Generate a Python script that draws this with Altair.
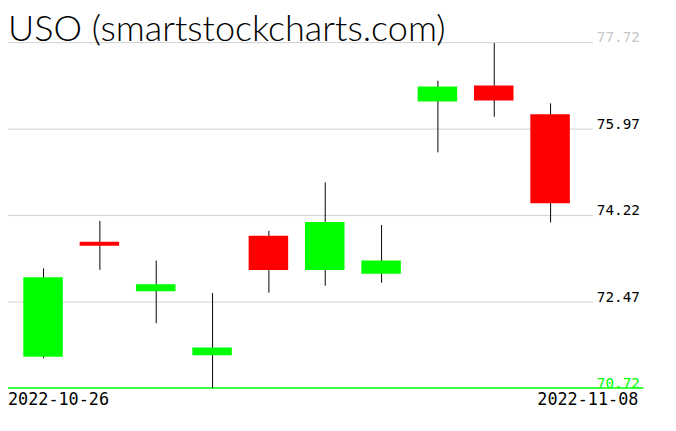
import altair as alt
import pandas as pd

# ---- data ----
dates = ["2022-10-26", "2022-10-27", "2022-10-28", "2022-10-31", "2022-11-01",
         "2022-11-02", "2022-11-03", "2022-11-04", "2022-11-07", "2022-11-08"]
opens = [71.35, 73.68, 72.68, 71.38, 73.80, 73.11, 73.03, 76.52, 76.84, 76.26]
closes = [72.96, 73.60, 72.82, 71.54, 73.11, 74.08, 73.30, 76.82, 76.54, 74.46]
highs = [73.14, 74.10, 73.30, 72.64, 73.90, 74.88, 74.02, 76.94, 77.70, 76.48]
lows = [71.32, 73.11, 72.03, 70.72, 72.65, 72.79, 72.85, 75.49, 76.21, 74.07]

tick_values = [70.72, 72.47, 74.22, 75.97, 77.72]
tick_labels = ["70.72", "72.47", "74.22", "75.97", "77.72"]
tick_colors = ["#00ff00", "#000000", "#000000", "#000000", "#c8c8c8"]

title_text = "USO (smartstockcharts.com)"
first_date_label = dates[0]
last_date_label = dates[-1]

candles = pd.DataFrame({
    "i": list(range(len(dates))),
    "date": dates,
    "open": opens,
    "close": closes,
    "high": highs,
    "low": lows,
})
candles["dir"] = ["up" if c >= o else "down" for o, c in zip(opens, closes)]

ticks = pd.DataFrame({"v": tick_values, "label": tick_labels, "col": tick_colors})

W, H = 592, 382
xscale = alt.Scale(domain=[-31 / 58, 561 / 58], nice=False, zero=False)
yscale = alt.Scale(domain=[70.72, 78.36], nice=False, zero=False)

base = alt.Chart(candles)

grid = alt.Chart(ticks).transform_filter("datum.v > 70.73").mark_rule(
    color="#d0d0d0", strokeWidth=1, yOffset=0.5
).encode(y=alt.Y("v:Q", scale=yscale, axis=None))

baseline = alt.Chart(ticks).transform_filter("datum.v < 70.73").mark_rule(
    color="#00ff00", strokeWidth=1.5
).encode(y=alt.Y("v:Q", scale=yscale, axis=None), x=alt.value(0), x2=alt.value(643))

wicks = base.mark_rule(color="black", strokeWidth=1, xOffset=0.5).encode(
    x=alt.X("i:Q", scale=xscale, axis=None),
    y=alt.Y("low:Q", scale=yscale, axis=None),
    y2="high:Q",
)

bodies = base.mark_bar(size=40).encode(
    x=alt.X("i:Q", scale=xscale, axis=None),
    y=alt.Y("open:Q", scale=yscale, axis=None),
    y2="close:Q",
    color=alt.Color("dir:N", scale=alt.Scale(domain=["up", "down"],
                                             range=["#00ff00", "#ff0000"]),
                    legend=None),
)

ylabels = alt.Chart(ticks).mark_text(
    align="left", baseline="alphabetic", font="DejaVu Sans Mono", fontSize=14.5
).encode(
    y=alt.Y("v:Q", scale=yscale, axis=None),
    x=alt.value(596),
    text="label:N",
    color=alt.Color("col:N", scale=None),
)

date_df = pd.DataFrame({"t": [first_date_label, last_date_label],
                        "side": ["left", "right"]})
dleft = alt.Chart(date_df).transform_filter("datum.side == 'left'").mark_text(
    align="left", baseline="alphabetic", font="DejaVu Sans Mono", fontSize=17,
    color="black"
).encode(x=alt.value(0), y=alt.value(399), text="t:N")
dright = alt.Chart(date_df).transform_filter("datum.side == 'right'").mark_text(
    align="right", baseline="alphabetic", font="DejaVu Sans Mono", fontSize=17,
    color="black"
).encode(x=alt.value(638), y=alt.value(399), text="t:N")

title_df = pd.DataFrame({"t": [title_text]})
title = alt.Chart(title_df).mark_text(
    align="left", baseline="alphabetic", font="Lato", fontWeight=300,
    fontSize=36.5, color="black"
).encode(x=alt.value(0), y=alt.value(31), text="t:N")

chart = alt.layer(grid, baseline, wicks, bodies, ylabels, dleft, dright, title).properties(
    width=W, height=H,
    autosize=alt.AutoSizeParams(type="none"),
    padding={"left": 0, "top": 0, "right": 76, "bottom": 41},
    background="white",
).configure_view(stroke=None, strokeWidth=0)

chart.save("out.html", embed_options={"renderer": "svg", "actions": False})
